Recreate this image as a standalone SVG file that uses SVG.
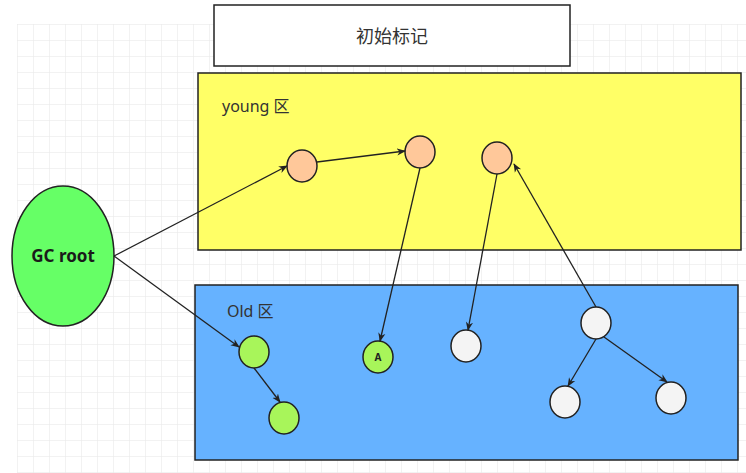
<svg xmlns="http://www.w3.org/2000/svg" width="746" height="473" viewBox="0 0 746 473">
<defs>
<pattern id="grid" width="16" height="16" patternUnits="userSpaceOnUse" x="17" y="24"><path d="M16 0H0V16" fill="none" stroke="#e6e6e6" stroke-width="1"/></pattern>
<marker id="arr" viewBox="0 0 10 10" refX="9" refY="5" markerWidth="9" markerHeight="9" orient="auto" markerUnits="userSpaceOnUse"><path d="M0 1L10 5L0 9L3 5Z" fill="#222"/></marker>
</defs>
<style>
.n{stroke:#222;stroke-width:1.5}
.o{fill:#ffc89a}.g{fill:#a8f55a}.w{fill:#f4f4f4}
.e line{stroke:#222;stroke-width:1.3;marker-end:url(#arr)}
text{font-family:"Noto Sans","Noto Sans CJK SC",sans-serif}
</style>
<rect width="746" height="473" fill="#fff"/>
<rect x="17" y="24" width="729" height="449" fill="url(#grid)"/>
<g id="title"><rect x="214" y="5" width="356" height="61" fill="#fff" stroke="#222" stroke-width="1.5"/><text x="392" y="43" font-size="18" text-anchor="middle" fill="#333">初始标记</text></g>
<g id="young"><rect x="198" y="73" width="543" height="177" fill="#ffff66" stroke="#222" stroke-width="1.5"/><text x="222" y="112" font-size="16" fill="#333">young 区</text></g>
<g id="old"><rect x="195" y="285" width="543" height="175" fill="#66b2ff" stroke="#222" stroke-width="1.5"/><text x="227" y="317" font-size="16" fill="#333">Old 区</text></g>
<g id="gcroot"><ellipse cx="63" cy="256" rx="51" ry="70" fill="#66ff66" class="n"/><text x="63" y="262" font-size="17" font-weight="bold" text-anchor="middle" fill="#1a1a1a">GC root</text></g>
<g id="y1"><ellipse cx="302" cy="166" rx="15" ry="16" class="n o"/></g>
<g id="y2"><ellipse cx="420" cy="152" rx="15" ry="16" class="n o"/></g>
<g id="y3"><ellipse cx="497" cy="158" rx="15" ry="16" class="n o"/></g>
<g id="o1"><ellipse cx="254" cy="352" rx="15" ry="16" class="n g"/></g>
<g id="o2"><ellipse cx="284" cy="418" rx="15" ry="16" class="n g"/></g>
<g id="A"><ellipse cx="378" cy="357" rx="15" ry="16" class="n g"/><text x="378" y="361" font-size="10" font-weight="bold" text-anchor="middle" fill="#222">A</text></g>
<g id="w1"><ellipse cx="466" cy="346" rx="15" ry="16" class="n w"/></g>
<g id="w2"><ellipse cx="596" cy="323" rx="15" ry="16" class="n w"/></g>
<g id="w3"><ellipse cx="565" cy="402" rx="15" ry="16" class="n w"/></g>
<g id="w4"><ellipse cx="671" cy="398" rx="15" ry="16" class="n w"/></g>
<g id="edges" class="e">
<line x1="114" y1="256" x2="287" y2="166"/>
<line x1="114" y1="256" x2="239" y2="347"/>
<line x1="317" y1="162" x2="405" y2="151"/>
<line x1="420" y1="168" x2="380" y2="341"/>
<line x1="497" y1="174" x2="468" y2="330"/>
<line x1="596" y1="307" x2="514" y2="164"/>
<line x1="254" y1="368" x2="280" y2="402"/>
<line x1="596" y1="339" x2="568" y2="386"/>
<line x1="604" y1="337" x2="667" y2="382"/>
</g>
</svg>
